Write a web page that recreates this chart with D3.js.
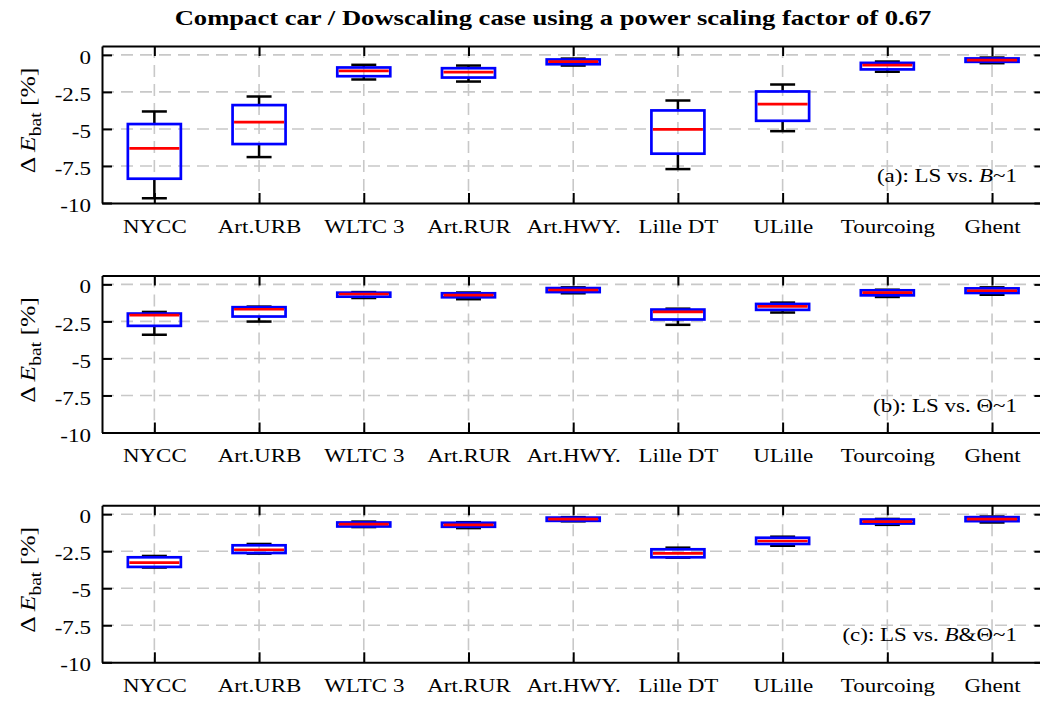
<!DOCTYPE html>
<html>
<head>
<meta charset="utf-8">
<script src="https://cdn.jsdelivr.net/npm/d3@7"></script>
<style>
  body { margin: 0; background: #fff; }
  svg { display: block; }
  text { font-family: "Liberation Serif", "Times New Roman", serif; fill: #000; }
</style>
</head>
<body>
<svg id="chart" width="1040" height="702"></svg>
<script>
// ---- data -------------------------------------------------------------
const categories = ["NYCC", "Art.URB", "WLTC 3", "Art.RUR", "Art.HWY.", "Lille DT", "ULille", "Tourcoing", "Ghent"];
const yTicks = [0, -2.5, -5, -7.5, -10];
const yTickLabels = ["0", "-2.5", "-5", "-7.5", "-10"];

// each row: [lower whisker, Q1, median, Q3, upper whisker]  (ΔE_bat in %)
const statsA = [
  [-9.68, -8.36, -6.31, -4.67, -3.82],
  [-6.90, -6.02, -4.54, -3.39, -2.81],
  [-1.66, -1.44, -1.08, -0.85, -0.67],
  [-1.80, -1.53, -1.17, -0.90, -0.72],
  [-0.72, -0.63, -0.45, -0.31, -0.25],
  [-7.71, -6.67, -5.03, -3.75, -3.08],
  [-5.15, -4.45, -3.32, -2.47, -2.00],
  [-1.14, -0.98, -0.69, -0.54, -0.45],
  [-0.56, -0.47, -0.36, -0.24, -0.18]
];
const statsB = [
  [-3.40, -2.80, -2.08, -1.97, -1.86],
  [-2.51, -2.17, -1.68, -1.54, -1.50],
  [-0.92, -0.83, -0.65, -0.56, -0.52],
  [-1.00, -0.87, -0.72, -0.60, -0.55],
  [-0.60, -0.52, -0.38, -0.25, -0.20],
  [-2.73, -2.37, -1.86, -1.70, -1.64],
  [-1.90, -1.72, -1.48, -1.32, -1.23],
  [-0.85, -0.74, -0.56, -0.40, -0.36],
  [-0.70, -0.58, -0.43, -0.27, -0.20]
];
const statsC = [
  [-3.60, -3.56, -3.27, -2.91, -2.82],
  [-2.66, -2.62, -2.40, -2.10, -2.01],
  [-0.87, -0.83, -0.67, -0.56, -0.50],
  [-0.94, -0.85, -0.72, -0.58, -0.54],
  [-0.48, -0.45, -0.34, -0.23, -0.20],
  [-2.93, -2.91, -2.64, -2.37, -2.26],
  [-2.13, -2.01, -1.81, -1.59, -1.52],
  [-0.72, -0.63, -0.50, -0.36, -0.32],
  [-0.56, -0.47, -0.34, -0.20, -0.16]
];
// panel tag pieces: [prefix, italic part, suffix]
const tagA = ["(a): LS vs. ", "B", "~1"];
const tagB = ["(b): LS vs. \u0398~1", "", ""];
const tagC = ["(c): LS vs. ", "B", "&\u0398~1"];
const titleText = "Compact car / Dowscaling case using a power scaling factor of 0.67";

// ---- layout -----------------------------------------------------------
const W = 1040, H = 702;
const left = 102, right = 1044.4, panelH = 157;
const tops = [46, 275.5, 505.3];
const stretch = 1.21;          // horizontal widening of the serif type
const fontSize = 19;
const boxW = 53, capW = 25;

const svg = d3.select("#chart");
svg.append("rect").attr("width", W).attr("height", H).attr("fill", "#fff");

const x = d3.scalePoint().domain(categories).range([left, right]).padding(0.5);

// title
svg.append("text")
  .attr("transform", `translate(553,25) scale(${stretch},1)`)
  .attr("text-anchor", "middle")
  .attr("font-weight", "bold")
  .attr("font-size", 22)
  .text(titleText);

const panels = [
  { stats: statsA, tag: tagA },
  { stats: statsB, tag: tagB },
  { stats: statsC, tag: tagC }
];

panels.forEach((p, i) => {
  const top = tops[i], bottom = top + panelH;
  const y = d3.scaleLinear().domain([-10, 0.6]).range([bottom, top]);
  const g = svg.append("g");

  // dashed grid
  const grid = g.append("g")
    .attr("stroke", "#c8c8c8").attr("stroke-width", 1.6).attr("stroke-dasharray", "12,7");
  grid.selectAll("line.h").data(yTicks.filter(v => v > -10)).join("line")
    .attr("class", "h")
    .attr("x1", left).attr("x2", right)
    .attr("y1", d => y(d)).attr("y2", d => y(d));
  grid.selectAll("line.v").data(categories).join("line")
    .attr("class", "v")
    .attr("x1", d => x(d)).attr("x2", d => x(d))
    .attr("y1", top).attr("y2", bottom);

  const rows = p.stats.map((s, j) => ({
    cat: categories[j], lo: s[0], q1: s[1], med: s[2], q3: s[3], hi: s[4]
  }));

  // whiskers
  const wh = g.append("g").attr("stroke", "#000").attr("stroke-width", 2.5);
  wh.selectAll("line.wl").data(rows).join("line").attr("class", "wl")
    .attr("x1", d => x(d.cat)).attr("x2", d => x(d.cat))
    .attr("y1", d => y(d.lo)).attr("y2", d => y(d.q1));
  wh.selectAll("line.wh").data(rows).join("line").attr("class", "wh")
    .attr("x1", d => x(d.cat)).attr("x2", d => x(d.cat))
    .attr("y1", d => y(d.q3)).attr("y2", d => y(d.hi));
  wh.selectAll("line.cl").data(rows).join("line").attr("class", "cl")
    .attr("x1", d => x(d.cat) - capW / 2).attr("x2", d => x(d.cat) + capW / 2)
    .attr("y1", d => y(d.lo)).attr("y2", d => y(d.lo));
  wh.selectAll("line.ch").data(rows).join("line").attr("class", "ch")
    .attr("x1", d => x(d.cat) - capW / 2).attr("x2", d => x(d.cat) + capW / 2)
    .attr("y1", d => y(d.hi)).attr("y2", d => y(d.hi));

  // boxes
  g.append("g").selectAll("rect").data(rows).join("rect")
    .attr("x", d => x(d.cat) - boxW / 2)
    .attr("width", boxW)
    .attr("y", d => y(d.q3))
    .attr("height", d => y(d.q1) - y(d.q3))
    .attr("fill", "none")
    .attr("stroke", "#0000ff")
    .attr("stroke-width", 2.7);

  // medians
  g.append("g").selectAll("line").data(rows).join("line")
    .attr("x1", d => x(d.cat) - boxW / 2 + 1.5).attr("x2", d => x(d.cat) + boxW / 2 - 1.5)
    .attr("y1", d => y(d.med)).attr("y2", d => y(d.med))
    .attr("stroke", "#ff0000").attr("stroke-width", 2.7);

  // axes (ticks point inward on all four sides)
  const styleAxis = a => {
    a.select(".domain").attr("stroke", "#000").attr("stroke-width", 2);
    a.selectAll(".tick line").attr("stroke", "#000").attr("stroke-width", 2);
    a.attr("font-family", null).attr("font-size", fontSize);
  };

  const ax = g.append("g").attr("transform", `translate(0,${bottom})`)
    .call(d3.axisBottom(x).tickSizeInner(-10).tickSizeOuter(0));
  styleAxis(ax);
  ax.selectAll(".tick text")
    .attr("y", 30).attr("dy", null)
    .attr("transform", `scale(${stretch},1)`);

  const axT = g.append("g").attr("transform", `translate(0,${top})`)
    .call(d3.axisTop(x).tickSizeInner(-10).tickSizeOuter(0).tickFormat(""));
  styleAxis(axT);

  const ay = g.append("g").attr("transform", `translate(${left},0)`)
    .call(d3.axisLeft(y).tickValues(yTicks).tickSizeInner(-10).tickSizeOuter(0)
      .tickPadding(11).tickFormat((d, k) => yTickLabels[k]));
  styleAxis(ay);
  ay.selectAll(".tick text")
    .attr("x", -11 / stretch).attr("dy", "8.6px")
    .attr("transform", `scale(${stretch},1)`);

  const ayR = g.append("g").attr("transform", `translate(${right},0)`)
    .call(d3.axisRight(y).tickValues(yTicks).tickSizeInner(-10).tickSizeOuter(0).tickFormat(""));
  styleAxis(ayR);

  // y-axis title
  const yl = g.append("text")
    .attr("transform", `translate(35,${(top + bottom) / 2 - 4}) rotate(-90) scale(1.22,1)`)
    .attr("text-anchor", "middle")
    .attr("font-size", 21);
  yl.append("tspan").text("\u0394 ");
  yl.append("tspan").attr("font-style", "italic").text("E");
  yl.append("tspan").attr("font-size", 16).attr("dy", 6).text("bat");
  yl.append("tspan").attr("dy", -6).text(" [%]");

  // panel tag
  const t = g.append("text")
    .attr("transform", `translate(1017,${bottom - 21}) scale(${stretch},1)`)
    .attr("text-anchor", "end")
    .attr("font-size", fontSize);
  t.append("tspan").text(p.tag[0]);
  if (p.tag[1]) t.append("tspan").attr("font-style", "italic").text(p.tag[1]);
  if (p.tag[2]) t.append("tspan").text(p.tag[2]);
});
</script>
</body>
</html>
